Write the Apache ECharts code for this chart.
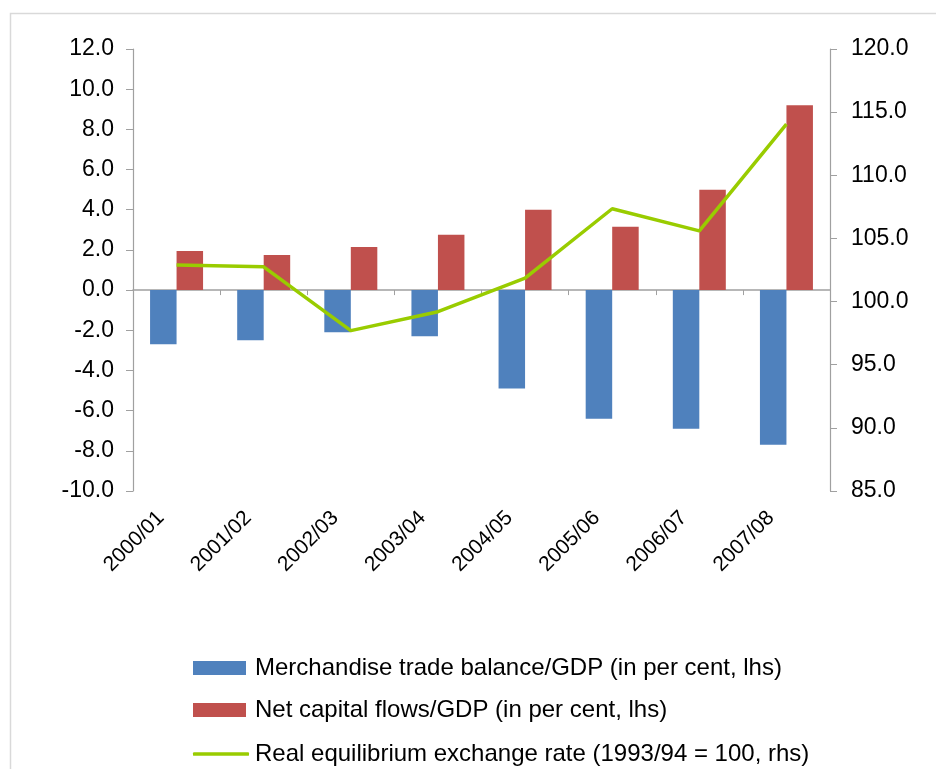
<!DOCTYPE html>
<html>
<head>
<meta charset="utf-8">
<script src="https://cdn.jsdelivr.net/npm/echarts@6/dist/echarts.min.js"></script>
<style>
html,body{margin:0;padding:0;background:#fff;}
#chart{width:936px;height:769px;}
</style>
</head>
<body>
<div id="chart"></div>
<script>
const categories = ['2000/01','2001/02','2002/03','2003/04','2004/05','2005/06','2006/07','2007/08'];
const tradeBalance = [-2.7, -2.5, -2.1, -2.3, -4.9, -6.4, -6.9, -7.7];
const capitalFlows = [1.95, 1.75, 2.15, 2.75, 4.0, 3.15, 5.0, 9.2];
const exchangeRate = [102.9, 102.75, 97.7, 99.2, 101.85, 107.35, 105.6, 114.05];
const seriesNames = [
  'Merchandise trade balance/GDP (in per cent, lhs)',
  'Net capital flows/GDP (in per cent, lhs)',
  'Real equilibrium exchange rate (1993/94 = 100, rhs)'
];

const FONT = "'Liberation Sans', Arial, sans-serif";
const AXIS_GRAY = '#A0A0A0';
const legendText = {fontFamily: FONT, fontSize: 24, color: '#000', padding: [0, 0, 0, 4]};

const chart = echarts.init(document.getElementById('chart'), null, {renderer: 'canvas'});
chart.setOption({
  animation: false,
  backgroundColor: '#fff',
  textStyle: {fontFamily: FONT},
  graphic: [{
    type: 'rect',
    shape: {x: 10.5, y: 13.5, width: 1000, height: 1000},
    style: {fill: 'none', stroke: '#D9D9D9', lineWidth: 1.5},
    silent: true
  }],
  grid: {left: 133, right: 106, top: 49, bottom: 278, containLabel: false},
  legend: [{
    orient: 'vertical', left: 188, top: 651,
    itemWidth: 53, itemHeight: 14,
    textStyle: legendText,
    data: [{name: seriesNames[0], icon: 'rect'}]
  }, {
    orient: 'vertical', left: 188, top: 693,
    itemWidth: 53, itemHeight: 14,
    textStyle: legendText,
    data: [{name: seriesNames[1], icon: 'rect'}]
  }, {
    orient: 'vertical', left: 188, top: 737,
    itemWidth: 56, itemHeight: 3.5,
    textStyle: Object.assign({}, legendText, {padding: [0, 0, 0, 1]}),
    data: [{name: seriesNames[2], icon: 'roundRect'}]
  }],
  xAxis: [{
    type: 'category',
    data: categories,
    position: 'bottom',
    axisLine: {show: false, onZero: false},
    axisTick: {show: false},
    axisLabel: {
      rotate: 45,
      margin: 8,
      padding: [0, 22, 0, 0],
      fontFamily: FONT,
      fontSize: 21,
      color: '#000',
      interval: 0
    }
  }, {
    type: 'category',
    data: categories,
    position: 'bottom',
    axisLine: {show: true, onZero: true, onZeroAxisIndex: 0, lineStyle: {color: AXIS_GRAY, width: 1.5}},
    axisTick: {show: true, inside: false, length: 5, lineStyle: {color: AXIS_GRAY}},
    axisLabel: {show: false}
  }],
  yAxis: [{
    type: 'value',
    min: -10,
    max: 12,
    interval: 2,
    position: 'left',
    axisLine: {show: true, lineStyle: {color: AXIS_GRAY, width: 1.2}},
    axisTick: {show: true, length: 7, lineStyle: {color: AXIS_GRAY}},
    splitLine: {show: false},
    axisLabel: {
      margin: 19,
      fontFamily: FONT,
      fontSize: 23,
      color: '#000',
      formatter: v => v.toFixed(1)
    }
  }, {
    type: 'value',
    min: 85,
    max: 120,
    interval: 5,
    position: 'right',
    axisLine: {show: true, lineStyle: {color: AXIS_GRAY, width: 1.2}},
    axisTick: {show: true, length: 7, lineStyle: {color: AXIS_GRAY}},
    splitLine: {show: false},
    axisLabel: {
      margin: 21,
      fontFamily: FONT,
      fontSize: 23,
      color: '#000',
      formatter: v => v.toFixed(1)
    }
  }],
  series: [{
    name: seriesNames[0],
    type: 'bar',
    xAxisIndex: 0,
    yAxisIndex: 0,
    data: tradeBalance,
    barWidth: 26.5,
    barGap: '0%',
    itemStyle: {color: '#4F81BD'}
  }, {
    name: seriesNames[1],
    type: 'bar',
    xAxisIndex: 0,
    yAxisIndex: 0,
    data: capitalFlows,
    barWidth: 26.5,
    barGap: '0%',
    itemStyle: {color: '#C0504D'}
  }, {
    name: seriesNames[2],
    type: 'line',
    xAxisIndex: 0,
    yAxisIndex: 1,
    data: exchangeRate,
    symbol: 'none',
    lineStyle: {color: '#99CC00', width: 3.5},
    itemStyle: {color: '#99CC00'},
    z: 5
  }]
});
</script>
</body>
</html>
